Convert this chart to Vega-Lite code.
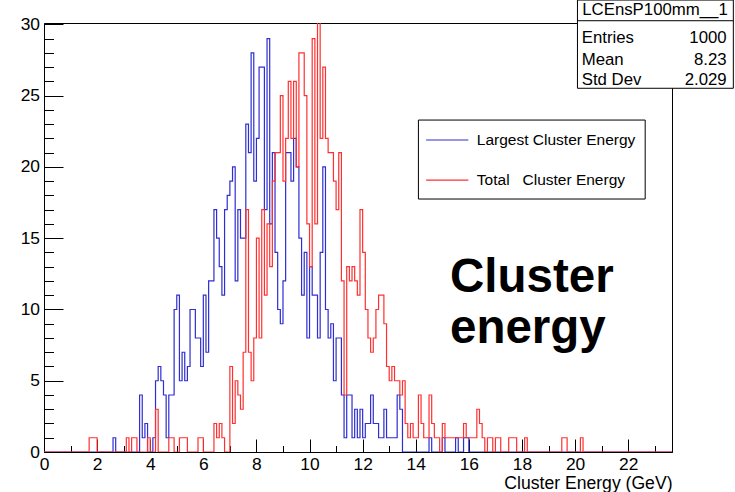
{
  "$schema": "https://vega.github.io/schema/vega-lite/v6.json",
  "width": 628,
  "height": 429,
  "autosize": {"type": "none"},
  "padding": {"left": 44, "top": 23, "right": 63, "bottom": 40},
  "background": "white",
  "config": {
    "view": {"stroke": "#000", "strokeWidth": 1},
    "font": "Liberation Sans",
    "axis": {"grid": false, "domainColor": "#000", "tickColor": "#000", "labelColor": "#000", "labelFont": "Liberation Sans", "titleFont": "Liberation Sans"}
  },
  "resolve": {"axis": {"x": "independent", "y": "independent"}},
  "datasets": {
    "hist": [
      {"e":0,"b":0,"r":0},{"e":0.1,"b":0,"r":0},{"e":0.2,"b":0,"r":0},{"e":0.3,"b":0,"r":0},{"e":0.4,"b":0,"r":0},
      {"e":0.5,"b":0,"r":0},{"e":0.6,"b":0,"r":0},{"e":0.7,"b":0,"r":0},{"e":0.8,"b":0,"r":0},{"e":0.9,"b":0,"r":0},
      {"e":1.0,"b":0,"r":0},{"e":1.1,"b":0,"r":0},{"e":1.2,"b":0,"r":0},{"e":1.3,"b":0,"r":0},{"e":1.4,"b":0,"r":0},
      {"e":1.5,"b":0,"r":0},{"e":1.6,"b":0,"r":0},{"e":1.7,"b":0,"r":1},{"e":1.8,"b":0,"r":1},{"e":1.9,"b":0,"r":1},
      {"e":2.0,"b":0,"r":0},{"e":2.1,"b":0,"r":0},{"e":2.2,"b":0,"r":0},{"e":2.3,"b":0,"r":0},{"e":2.4,"b":0,"r":0},
      {"e":2.5,"b":0,"r":0},{"e":2.6,"b":1,"r":0},{"e":2.7,"b":0,"r":0},{"e":2.8,"b":0,"r":0},{"e":2.9,"b":0,"r":0},
      {"e":3.0,"b":0,"r":0},{"e":3.1,"b":0,"r":1},{"e":3.2,"b":0,"r":0},{"e":3.3,"b":0,"r":1},{"e":3.4,"b":0,"r":1},
      {"e":3.5,"b":0,"r":0},{"e":3.6,"b":4,"r":0},{"e":3.7,"b":1,"r":0},{"e":3.8,"b":2,"r":0},{"e":3.9,"b":0,"r":1},
      {"e":4.0,"b":0,"r":0},{"e":4.1,"b":1,"r":0},{"e":4.2,"b":5,"r":3},{"e":4.3,"b":6,"r":0},{"e":4.4,"b":5,"r":0},
      {"e":4.5,"b":4,"r":0},{"e":4.6,"b":1,"r":0},{"e":4.7,"b":4,"r":1},{"e":4.8,"b":4,"r":1},{"e":4.9,"b":10,"r":0},
      {"e":5.0,"b":11,"r":0},{"e":5.1,"b":5,"r":1},{"e":5.2,"b":7,"r":1},{"e":5.3,"b":5,"r":1},{"e":5.4,"b":6,"r":0},
      {"e":5.5,"b":10,"r":0},{"e":5.6,"b":10,"r":0},{"e":5.7,"b":8,"r":0},{"e":5.8,"b":8,"r":1},{"e":5.9,"b":6,"r":1},
      {"e":6.0,"b":11,"r":0},{"e":6.1,"b":7,"r":0},{"e":6.2,"b":12,"r":0},{"e":6.3,"b":12,"r":0},{"e":6.4,"b":17,"r":2},
      {"e":6.5,"b":15,"r":1},{"e":6.6,"b":13,"r":2},{"e":6.7,"b":11,"r":1},{"e":6.8,"b":17,"r":0},{"e":6.9,"b":18,"r":0},
      {"e":7.0,"b":19,"r":6},{"e":7.1,"b":20,"r":2},{"e":7.2,"b":12,"r":5},{"e":7.3,"b":17,"r":4},{"e":7.4,"b":15,"r":3},
      {"e":7.5,"b":15,"r":7},{"e":7.6,"b":23,"r":17},{"e":7.7,"b":21,"r":7},{"e":7.8,"b":28,"r":5},{"e":7.9,"b":19,"r":8},
      {"e":8.0,"b":22,"r":15},{"e":8.1,"b":27,"r":8},{"e":8.2,"b":27,"r":17},{"e":8.3,"b":17,"r":11},{"e":8.4,"b":29,"r":16},
      {"e":8.5,"b":16,"r":13},{"e":8.6,"b":21,"r":19},{"e":8.7,"b":14,"r":21},{"e":8.8,"b":10,"r":21},{"e":8.9,"b":9,"r":25},
      {"e":9.0,"b":12,"r":19},{"e":9.1,"b":21,"r":22},{"e":9.2,"b":21,"r":26},{"e":9.3,"b":19,"r":22},{"e":9.4,"b":22,"r":26},
      {"e":9.5,"b":20,"r":20},{"e":9.6,"b":15,"r":28},{"e":9.7,"b":11,"r":28},{"e":9.8,"b":14,"r":25},{"e":9.9,"b":8,"r":16},
      {"e":10.0,"b":13,"r":13},{"e":10.1,"b":11,"r":29},{"e":10.2,"b":11,"r":16},{"e":10.3,"b":8,"r":31},{"e":10.4,"b":14,"r":22},
      {"e":10.5,"b":20,"r":27},{"e":10.6,"b":10,"r":22},{"e":10.7,"b":8,"r":21},{"e":10.8,"b":9,"r":21},{"e":10.9,"b":5,"r":19},
      {"e":11.0,"b":8,"r":17},{"e":11.1,"b":8,"r":21},{"e":11.2,"b":4,"r":12},{"e":11.3,"b":1,"r":4},{"e":11.4,"b":4,"r":13},
      {"e":11.5,"b":4,"r":12},{"e":11.6,"b":1,"r":13},{"e":11.7,"b":3,"r":12},{"e":11.8,"b":1,"r":11},{"e":11.9,"b":3,"r":17},
      {"e":12.0,"b":1,"r":14},{"e":12.1,"b":2,"r":10},{"e":12.2,"b":2,"r":8},{"e":12.3,"b":4,"r":7},{"e":12.4,"b":2,"r":8},
      {"e":12.5,"b":2,"r":10},{"e":12.6,"b":1,"r":11},{"e":12.7,"b":1,"r":11},{"e":12.8,"b":3,"r":9},{"e":12.9,"b":1,"r":6},
      {"e":13.0,"b":1,"r":5},{"e":13.1,"b":1,"r":6},{"e":13.2,"b":1,"r":5},{"e":13.3,"b":4,"r":5},{"e":13.4,"b":3,"r":4},
      {"e":13.5,"b":0,"r":5},{"e":13.6,"b":0,"r":2},{"e":13.7,"b":0,"r":1},{"e":13.8,"b":0,"r":2},{"e":13.9,"b":0,"r":1},
      {"e":14.0,"b":0,"r":1},{"e":14.1,"b":0,"r":4},{"e":14.2,"b":0,"r":2},{"e":14.3,"b":0,"r":1},{"e":14.4,"b":0,"r":1},
      {"e":14.5,"b":1,"r":4},{"e":14.6,"b":0,"r":2},{"e":14.7,"b":0,"r":1},{"e":14.8,"b":0,"r":1},{"e":14.9,"b":0,"r":0},
      {"e":15.0,"b":1,"r":2},{"e":15.1,"b":0,"r":1},{"e":15.2,"b":0,"r":1},{"e":15.3,"b":0,"r":1},{"e":15.4,"b":0,"r":1},
      {"e":15.5,"b":1,"r":1},{"e":15.6,"b":0,"r":1},{"e":15.7,"b":0,"r":1},{"e":15.8,"b":1,"r":2},{"e":15.9,"b":1,"r":1},
      {"e":16.0,"b":0,"r":1},{"e":16.1,"b":0,"r":1},{"e":16.2,"b":0,"r":1},{"e":16.3,"b":0,"r":3},{"e":16.4,"b":0,"r":2},
      {"e":16.5,"b":0,"r":1},{"e":16.6,"b":0,"r":0},{"e":16.7,"b":0,"r":1},{"e":16.8,"b":0,"r":1},{"e":16.9,"b":0,"r":0},
      {"e":17.0,"b":0,"r":1},{"e":17.1,"b":0,"r":1},{"e":17.2,"b":0,"r":0},{"e":17.3,"b":0,"r":0},{"e":17.4,"b":0,"r":0},
      {"e":17.5,"b":0,"r":1},{"e":17.6,"b":0,"r":1},{"e":17.7,"b":0,"r":1},{"e":17.8,"b":0,"r":0},{"e":17.9,"b":0,"r":0},
      {"e":18.0,"b":0,"r":0},{"e":18.1,"b":0,"r":1},{"e":18.2,"b":0,"r":0},{"e":18.3,"b":0,"r":0},{"e":18.4,"b":0,"r":0},
      {"e":18.5,"b":0,"r":0},{"e":18.6,"b":0,"r":0},{"e":18.7,"b":0,"r":0},{"e":18.8,"b":0,"r":0},{"e":18.9,"b":0,"r":0},
      {"e":19.0,"b":0,"r":0},{"e":19.1,"b":0,"r":0},{"e":19.2,"b":0,"r":0},{"e":19.3,"b":0,"r":0},{"e":19.4,"b":0,"r":0},
      {"e":19.5,"b":0,"r":1},{"e":19.6,"b":0,"r":1},{"e":19.7,"b":0,"r":0},{"e":19.8,"b":0,"r":0},{"e":19.9,"b":0,"r":0},
      {"e":20.0,"b":0,"r":0},{"e":20.1,"b":0,"r":0},{"e":20.2,"b":0,"r":1},{"e":20.3,"b":0,"r":0},{"e":20.4,"b":0,"r":0},
      {"e":20.5,"b":0,"r":0},{"e":20.6,"b":0,"r":0},{"e":20.7,"b":0,"r":0},{"e":20.8,"b":0,"r":0},{"e":20.9,"b":0,"r":0},
      {"e":21.0,"b":0,"r":0},{"e":21.1,"b":0,"r":0},{"e":21.2,"b":0,"r":0},{"e":21.3,"b":0,"r":0},{"e":21.4,"b":0,"r":0},
      {"e":21.5,"b":0,"r":0},{"e":21.6,"b":0,"r":0},{"e":21.7,"b":0,"r":0},{"e":21.8,"b":0,"r":0},{"e":21.9,"b":0,"r":0},
      {"e":22.0,"b":0,"r":0},{"e":22.1,"b":0,"r":0},{"e":22.2,"b":0,"r":0},{"e":22.3,"b":0,"r":0},{"e":22.4,"b":0,"r":0},
      {"e":22.5,"b":0,"r":0},{"e":22.6,"b":0,"r":0},{"e":22.7,"b":0,"r":0},{"e":22.8,"b":0,"r":0},{"e":22.9,"b":0,"r":0},
      {"e":23.0,"b":0,"r":0},{"e":23.1,"b":0,"r":0},{"e":23.2,"b":0,"r":0},{"e":23.3,"b":0,"r":0},{"e":23.4,"b":0,"r":0},
      {"e":23.5,"b":0,"r":0},{"e":23.6,"b":0,"r":0},{"e":23.65,"b":0,"r":0}
    ],
    "series": [
      {"s": "b", "label": "Largest Cluster Energy"},
      {"s": "r", "label": "Total\u00a0\u00a0 Cluster Energy"}
    ],
    "stats": [
      {"k": "Entries", "v": "1000"},
      {"k": "Mean", "v": "8.23"},
      {"k": "Std Dev", "v": "2.029"}
    ]
  },
  "layer": [
    {
      "data": {"name": "hist"},
      "transform": [{"fold": ["b", "r"], "as": ["series", "n"]}],
      "mark": {"type": "line", "interpolate": "step-after", "clip": true, "strokeWidth": 1.2},
      "encoding": {
        "x": {
          "field": "e", "type": "quantitative",
          "scale": {"domain": [0, 23.65], "nice": false, "zero": false},
          "axis": {
            "orient": "bottom",
            "values": [0,0.5,1,1.5,2,2.5,3,3.5,4,4.5,5,5.5,6,6.5,7,7.5,8,8.5,9,9.5,10,10.5,11,11.5,12,12.5,13,13.5,14,14.5,15,15.5,16,16.5,17,17.5,18,18.5,19,19.5,20,20.5,21,21.5,22,22.5,23,23.5],
            "format": "d",
            "labelExpr": "datum.value % 2 === 0 ? datum.label : ''",
            "labelFontSize": 17.4,
            "labelPadding": 16,
            "labelOverlap": false,
            "labelFlush": false,
            "tickSize": {"condition": {"test": "datum.value % 2 === 0", "value": -13}, "value": -6.5},
            "title": "Cluster Energy (GeV)",
            "titleFontSize": 17.6,
            "titleFontWeight": "normal",
            "titleColor": "#000",
            "titleAnchor": "end",
            "titleAlign": "right",
            "titleBaseline": "alphabetic",
            "titleX": 628,
            "titleY": 36
          }
        },
        "y": {
          "field": "n", "type": "quantitative",
          "scale": {"domain": [0, 30.1], "nice": false},
          "axis": {
            "orient": "left",
            "values": [0,1,2,3,4,5,6,7,8,9,10,11,12,13,14,15,16,17,18,19,20,21,22,23,24,25,26,27,28,29,30],
            "format": "d",
            "labelExpr": "datum.value % 5 === 0 ? datum.label : ''",
            "labelFontSize": 17.4,
            "labelPadding": 23.5,
            "labelOverlap": false,
            "labelFlush": false,
            "tickSize": {"condition": {"test": "datum.value % 5 === 0", "value": -19}, "value": -9.5},
            "title": null
          }
        },
        "color": {
          "field": "series", "type": "nominal",
          "scale": {"domain": ["b", "r"], "range": ["#2e2ed2", "#ff3030"]},
          "legend": null
        }
      }
    },
    {
      "data": {"name": "series"},
      "layer": [
        {
          "transform": [{"filter": "datum.s === 'b'"}],
          "layer": [
            {
              "mark": {"type": "rect", "fill": "white", "stroke": "#000", "strokeWidth": 1, "clip": false},
              "encoding": {"x": {"datum": 14.10, "axis": null}, "x2": {"datum": 22.64}, "y": {"datum": 23.29, "axis": null}, "y2": {"datum": 17.75}}
            },
            {
              "mark": {"type": "rule", "strokeWidth": 1.2},
              "encoding": {"x": {"datum": 14.39, "axis": null}, "x2": {"datum": 15.98}, "y": {"datum": 21.89, "axis": null}, "color": {"field": "s", "type": "nominal", "legend": null}}
            },
            {
              "mark": {"type": "text", "align": "left", "baseline": "middle", "fontSize": 15.5, "font": "Liberation Sans", "color": "#000"},
              "encoding": {"x": {"datum": 16.30, "axis": null}, "y": {"datum": 21.89, "axis": null}, "text": {"field": "label"}}
            }
          ]
        },
        {
          "transform": [{"filter": "datum.s === 'r'"}],
          "layer": [
            {
              "mark": {"type": "rule", "strokeWidth": 1.2},
              "encoding": {"x": {"datum": 14.39, "axis": null}, "x2": {"datum": 15.98}, "y": {"datum": 19.08, "axis": null}, "color": {"field": "s", "type": "nominal", "legend": null}}
            },
            {
              "mark": {"type": "text", "align": "left", "baseline": "middle", "fontSize": 15.5, "font": "Liberation Sans", "color": "#000"},
              "encoding": {"x": {"datum": 16.30, "axis": null}, "y": {"datum": 19.08, "axis": null}, "text": {"field": "label"}}
            }
          ]
        }
      ]
    },
    {
      "data": {"name": "stats"},
      "layer": [
        {
          "transform": [{"filter": "datum.k === 'Entries'"}],
          "layer": [
            {
              "mark": {"type": "rect", "fill": "white", "stroke": "#000", "strokeWidth": 1, "clip": false},
              "encoding": {"x": {"datum": 20.09, "axis": null}, "x2": {"datum": 25.96}, "y": {"datum": 31.71, "axis": null}, "y2": {"datum": 25.52}}
            },
            {
              "mark": {"type": "rule", "stroke": "#000", "strokeWidth": 1, "clip": false},
              "encoding": {"x": {"datum": 20.09, "axis": null}, "x2": {"datum": 25.96}, "y": {"datum": 30.26, "axis": null}}
            },
            {
              "mark": {"type": "text", "align": "center", "baseline": "middle", "fontSize": 16.8, "font": "Liberation Sans", "color": "#000", "text": "LCEnsP100mm__1", "clip": false},
              "encoding": {"x": {"datum": 23.01, "axis": null}, "y": {"datum": 30.98, "axis": null}}
            },
            {
              "mark": {"type": "text", "align": "left", "baseline": "middle", "fontSize": 16.8, "font": "Liberation Sans", "color": "#000", "clip": false},
              "encoding": {"x": {"datum": 20.25, "axis": null}, "y": {"datum": 29.07, "axis": null}, "text": {"field": "k"}}
            },
            {
              "mark": {"type": "text", "align": "right", "baseline": "middle", "fontSize": 16.8, "font": "Liberation Sans", "color": "#000", "clip": false},
              "encoding": {"x": {"datum": 25.71, "axis": null}, "y": {"datum": 29.07, "axis": null}, "text": {"field": "v"}}
            }
          ]
        },
        {
          "transform": [{"filter": "datum.k === 'Mean'"}],
          "layer": [
            {
              "mark": {"type": "text", "align": "left", "baseline": "middle", "fontSize": 16.8, "font": "Liberation Sans", "color": "#000", "clip": false},
              "encoding": {"x": {"datum": 20.25, "axis": null}, "y": {"datum": 27.5, "axis": null}, "text": {"field": "k"}}
            },
            {
              "mark": {"type": "text", "align": "right", "baseline": "middle", "fontSize": 16.8, "font": "Liberation Sans", "color": "#000", "clip": false},
              "encoding": {"x": {"datum": 25.71, "axis": null}, "y": {"datum": 27.5, "axis": null}, "text": {"field": "v"}}
            }
          ]
        },
        {
          "transform": [{"filter": "datum.k === 'Std Dev'"}],
          "layer": [
            {
              "mark": {"type": "text", "align": "left", "baseline": "middle", "fontSize": 16.8, "font": "Liberation Sans", "color": "#000", "clip": false},
              "encoding": {"x": {"datum": 20.25, "axis": null}, "y": {"datum": 26.1, "axis": null}, "text": {"field": "k"}}
            },
            {
              "mark": {"type": "text", "align": "right", "baseline": "middle", "fontSize": 16.8, "font": "Liberation Sans", "color": "#000", "clip": false},
              "encoding": {"x": {"datum": 25.71, "axis": null}, "y": {"datum": 26.1, "axis": null}, "text": {"field": "v"}}
            }
          ]
        },
        {
          "transform": [{"filter": "datum.k === 'Entries'"}],
          "layer": [
            {
              "mark": {"type": "text", "align": "left", "baseline": "alphabetic", "fontSize": 47.5, "fontWeight": "bold", "font": "Liberation Sans", "color": "#000", "text": "Cluster"},
              "encoding": {"x": {"datum": 15.29, "axis": null}, "y": {"datum": 11.23, "axis": null}}
            },
            {
              "mark": {"type": "text", "align": "left", "baseline": "alphabetic", "fontSize": 47.5, "fontWeight": "bold", "font": "Liberation Sans", "color": "#000", "text": "energy"},
              "encoding": {"x": {"datum": 15.29, "axis": null}, "y": {"datum": 7.65, "axis": null}}
            }
          ]
        }
      ]
    }
  ]
}
